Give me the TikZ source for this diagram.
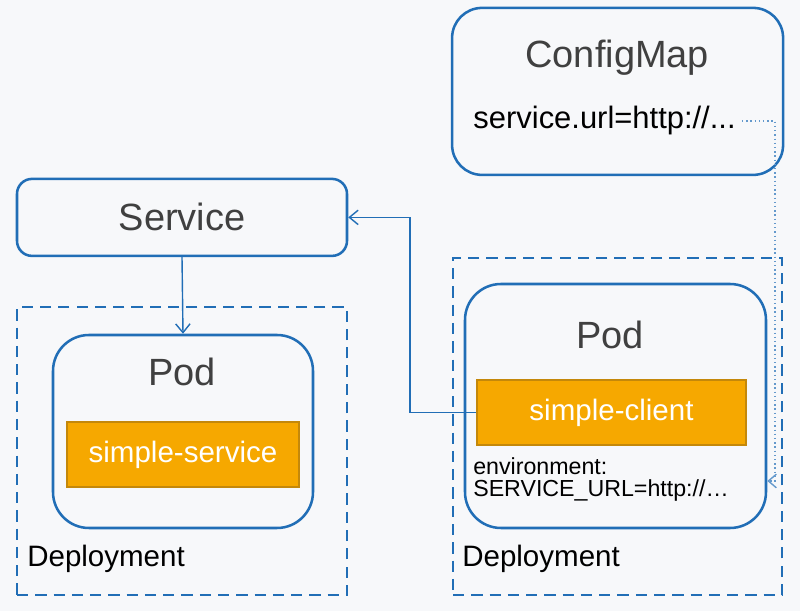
\documentclass[tikz,border=0pt]{standalone}
\usepackage{fontspec}
\setmainfont{Liberation Sans}
\usepackage{tikz}
\usetikzlibrary{arrows.meta,calc,positioning,backgrounds}
\definecolor{kblue}{RGB}{33,110,182}
\definecolor{korange}{RGB}{246,168,0}
\definecolor{kedge}{RGB}{196,136,10}
\definecolor{ktitle}{RGB}{64,64,64}
\definecolor{kbg}{RGB}{247,248,250}

\begin{document}
\begin{tikzpicture}
[box/.style={draw=kblue,line width=1.8pt,rounded corners=#1},
box/.default=0.375cm,
deploy/.style={draw=kblue,line width=1.4pt,dash pattern=on 8pt off 5pt},
app/.style={draw=kedge,fill=korange,line width=1.2pt,text=white,
minimum width=#1,minimum height=1.625cm,font=\fontsize{21}{24}\selectfont},
title/.style={text=ktitle,font=\fontsize{27}{30}\selectfont},
body/.style={anchor=west,inner sep=0pt,font=\fontsize{#1}{#1}\selectfont},
flow/.style={draw=kblue,line width=1pt,-{Straight Barb[length=2.2mm,width=3.6mm]}},
link/.style={draw=kblue!70,line width=1pt,dotted,-{Straight Barb[length=2mm,width=3.4mm]}}]
\fill[kbg] (0,0) rectangle (20,15.275);
\useasboundingbox (0,0) rectangle (20,15.275);

% config map
\node (cfg) at (15.44,12.99) [box=0.75cm,minimum width=8.275cm,minimum height=4.175cm] {};
\node (cfgname) at (15.43,13.83) [title] {ConfigMap};
\node (url) at (11.83,12.25) [body=22] {service.url=http://...};

% service
\node (svc) at (4.55,9.84) [box,minimum width=8.25cm,minimum height=1.925cm,title] {Service};

% left deployment
\node (ldep) at (4.55,4.0) [deploy,minimum width=8.25cm,minimum height=7.2cm] {};
\node (spod) at (4.575,4.4875) [box=0.9cm,minimum width=6.5cm,minimum height=4.825cm] {};
\node (spodname) at (4.55,5.975) [title] {Pod};
\node (server) at (4.575,3.9125) [app=5.8cm] {simple-service};
\node (ldepname) at (0.675,1.31) [body=21] {Deployment};

% right deployment
\node (rdep) at (15.4375,4.6125) [deploy,minimum width=8.225cm,minimum height=8.425cm] {};
\node (cpod) at (15.3875,5.125) [box=0.9cm,minimum width=7.525cm,minimum height=6.1cm] {};
\node (cpodname) at (15.25,6.9) [title] {Pod};
\node (client) at (15.2875,4.9625) [app=6.725cm] {simple-client};
\node (env) at (11.825,3.63) [body=16.5] {environment:};
\node (envurl) at (11.825,3.0) [body=16.5] {SERVICE\_URL=http://\ldots};
\node (rdepname) at (11.55,1.31) [body=21] {Deployment};

\coordinate (turn) at (10.25,0);
\coordinate (feed) at (19.375,3.25);

\draw[flow] (svc.south) -- (spod.north);
\draw[flow] (client.west) -| (turn |- svc.east) -- (svc.east);
\draw[link] (url.east) ++(0.15,0) -| (feed) -- (feed -| cpod.east);

\end{tikzpicture}
\end{document}
